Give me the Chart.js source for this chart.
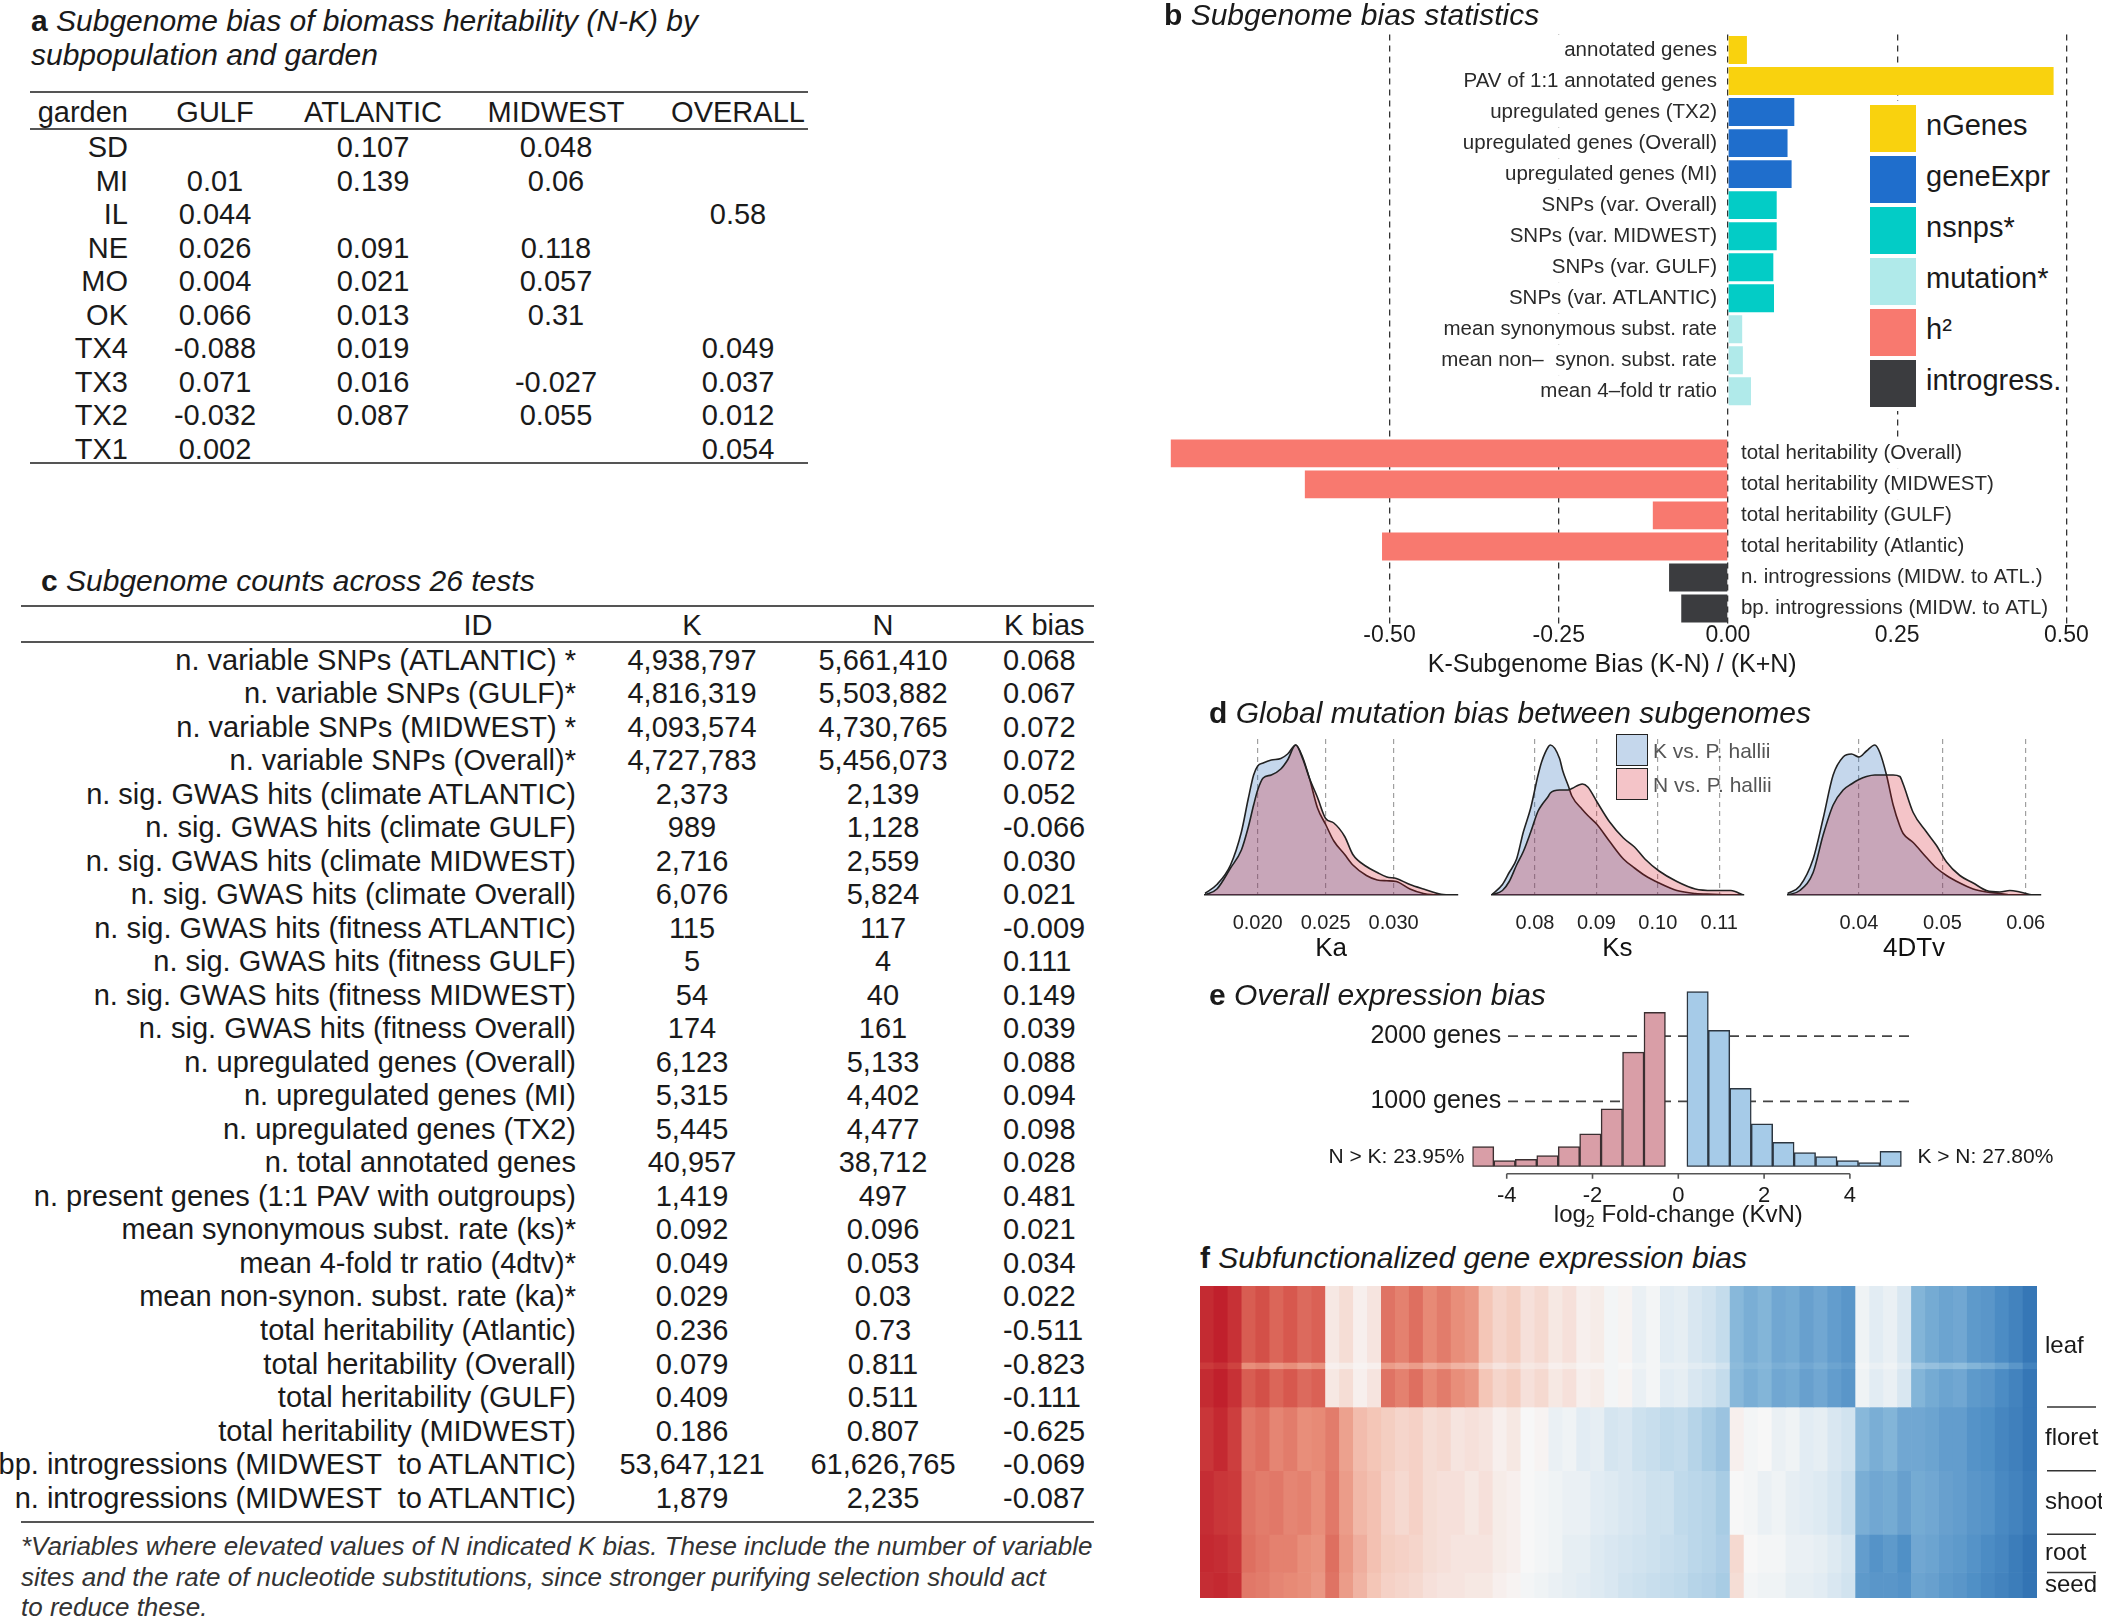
<!DOCTYPE html>
<html>
<head>
<meta charset="utf-8">
<title>Subgenome bias</title>
<script src="https://cdn.jsdelivr.net/npm/chart.js@4.4.1/dist/chart.umd.min.js"></script>
<style>
  body { margin: 0; width: 2102px; height: 1616px; overflow: hidden; background: #fff; position: relative;
         font-family: 'Liberation Sans', Arial, sans-serif; color: #1a1a1a; }
  .t { position: absolute; white-space: pre; line-height: 1; z-index: 2; }
  .ttl { font-size: 30px; font-style: italic; }
  .ttl b { font-style: normal; }
  .cell { font-size: 29px; }
  canvas { position: absolute; z-index: 1; }
</style>
</head>
<body>
<canvas id="cb" width="1002" height="690" style="left:1100px;top:0px"></canvas>
<canvas id="cka" width="290" height="237" style="left:1185px;top:725px"></canvas>
<canvas id="cks" width="285" height="237" style="left:1475px;top:725px"></canvas>
<canvas id="cdtv" width="300" height="237" style="left:1765px;top:725px"></canvas>
<canvas id="ce" width="802" height="270" style="left:1300px;top:960px"></canvas>
<canvas id="cf" width="902" height="312" style="left:1200px;top:1286px"></canvas>
<script>
const FAMILY = "'Liberation Sans', Arial, sans-serif";
Chart.defaults.font.family = FAMILY;
Chart.defaults.color = '#1a1a1a';

// panel a - heritability bias by garden
const gardens = ['SD', 'MI', 'IL', 'NE', 'MO', 'OK', 'TX4', 'TX3', 'TX2', 'TX1'];
const subpops = ['GULF', 'ATLANTIC', 'MIDWEST', 'OVERALL'];
const gulfBias = [null, 0.01, 0.044, 0.026, 0.004, 0.066, -0.088, 0.071, -0.032, 0.002];
const atlanticBias = [0.107, 0.139, null, 0.091, 0.021, 0.013, 0.019, 0.016, 0.087, null];
const midwestBias = [0.048, 0.06, null, 0.118, 0.057, 0.31, null, -0.027, 0.055, null];
const overallBias = [null, null, 0.58, null, null, null, 0.049, 0.037, 0.012, 0.054];

// panel b - bias statistics
const biasLabels = ['annotated genes', 'PAV of 1:1 annotated genes', 'upregulated genes (TX2)',
  'upregulated genes (Overall)', 'upregulated genes (MI)', 'SNPs (var. Overall)', 'SNPs (var. MIDWEST)',
  'SNPs (var. GULF)', 'SNPs (var. ATLANTIC)', 'mean synonymous subst. rate', 'mean non\u2013  synon. subst. rate',
  'mean 4\u2013fold tr ratio', '', 'total heritability (Overall)', 'total heritability (MIDWEST)',
  'total heritability (GULF)', 'total heritability (Atlantic)', 'n. introgressions (MIDW. to ATL.)',
  'bp. introgressions (MIDW. to ATL)'];
const biasValues = [0.028, 0.481, 0.098, 0.088, 0.094, 0.072, 0.072, 0.067, 0.068, 0.021, 0.022, 0.034,
  null, -0.823, -0.625, -0.111, -0.511, -0.087, -0.069];
const biasGroups = ['nGenes', 'nGenes', 'geneExpr', 'geneExpr', 'geneExpr', 'nsnps', 'nsnps', 'nsnps', 'nsnps',
  'mutation', 'mutation', 'mutation', null, 'h2', 'h2', 'h2', 'h2', 'introgress', 'introgress'];
const biasTicks = [-0.5, -0.25, 0, 0.25, 0.5];
const groupNames = ['nGenes', 'geneExpr', 'nsnps', 'mutation', 'h2', 'introgress'];
const groupLegend = ['nGenes', 'geneExpr', 'nsnps*', 'mutation*', 'h\u00b2', 'introgress.'];
const groupColors = { nGenes: '#F9D20E', geneExpr: '#1F6ECC', nsnps: '#03CCC6', mutation: '#B0EAEA', h2: '#F8796F', introgress: '#3B3C3F' };

// panel c - counts across tests
const testIds = ['n. variable SNPs (ATLANTIC) *', 'n. variable SNPs (GULF)*', 'n. variable SNPs (MIDWEST) *',
  'n. variable SNPs (Overall)*', 'n. sig. GWAS hits (climate ATLANTIC)', 'n. sig. GWAS hits (climate GULF)',
  'n. sig. GWAS hits (climate MIDWEST)', 'n. sig. GWAS hits (climate Overall)', 'n. sig. GWAS hits (fitness ATLANTIC)',
  'n. sig. GWAS hits (fitness GULF)', 'n. sig. GWAS hits (fitness MIDWEST)', 'n. sig. GWAS hits (fitness Overall)',
  'n. upregulated genes (Overall)', 'n. upregulated genes (MI)', 'n. upregulated genes (TX2)', 'n. total annotated genes',
  'n. present genes (1:1 PAV with outgroups)', 'mean synonymous subst. rate (ks)*', 'mean 4-fold tr ratio (4dtv)*',
  'mean non-synon. subst. rate (ka)*', 'total heritability (Atlantic)', 'total heritability (Overall)',
  'total heritability (GULF)', 'total heritability (MIDWEST)', 'bp. introgressions (MIDWEST  to ATLANTIC)',
  'n. introgressions (MIDWEST  to ATLANTIC)'];
const kCounts = [4938797, 4816319, 4093574, 4727783, 2373, 989, 2716, 6076, 115, 5, 54, 174, 6123, 5315, 5445,
  40957, 1419, 0.092, 0.049, 0.029, 0.236, 0.079, 0.409, 0.186, 53647121, 1879];
const nCounts = [5661410, 5503882, 4730765, 5456073, 2139, 1128, 2559, 5824, 117, 4, 40, 161, 5133, 4402, 4477,
  38712, 497, 0.096, 0.053, 0.03, 0.73, 0.811, 0.511, 0.807, 61626765, 2235];
const kBias = [0.068, 0.067, 0.072, 0.072, 0.052, -0.066, 0.030, 0.021, -0.009, 0.111, 0.149, 0.039, 0.088,
  0.094, 0.098, 0.028, 0.481, 0.021, 0.034, 0.022, -0.511, -0.823, -0.111, -0.625, -0.069, -0.087];

// panel d - mutation rate densities (relative height)
const kaRange = [0.0161, 0.0347];
const kaTicks = [0.020, 0.025, 0.030];
const kaGrid = [0.0161, 0.0170, 0.0180, 0.0188, 0.0193, 0.0197, 0.0200, 0.0204, 0.0210, 0.0217, 0.0222, 0.0228, 0.0233,
  0.0238, 0.0244, 0.0250, 0.0256, 0.0264, 0.0270, 0.0280, 0.0288, 0.0295, 0.0302, 0.0312, 0.0322, 0.0335, 0.0347];
const kaK = [0.01, 0.07, 0.2, 0.42, 0.64, 0.8, 0.86, 0.88, 0.9, 0.91, 0.94, 1.0, 0.92, 0.78, 0.58, 0.47, 0.36, 0.27,
  0.2, 0.13, 0.1, 0.095, 0.09, 0.04, 0.01, 0, 0];
const kaN = [0, 0.04, 0.18, 0.3, 0.45, 0.6, 0.7, 0.78, 0.8, 0.84, 0.9, 1.0, 0.91, 0.78, 0.65, 0.51, 0.48, 0.39,
  0.27, 0.19, 0.15, 0.12, 0.11, 0.07, 0.04, 0.005, 0];

const ksRange = [0.0729, 0.1139];
const ksTicks = [0.08, 0.09, 0.10, 0.11];
const ksGrid = [0.0729, 0.0747, 0.0758, 0.0770, 0.0781, 0.0793, 0.0805, 0.0811, 0.0822, 0.0825, 0.0840, 0.0845, 0.0854,
  0.0860, 0.0877, 0.0886, 0.0901, 0.0921, 0.0944, 0.0962, 0.0979, 0.1002, 0.1031, 0.1061, 0.1090, 0.1119, 0.1139];
const ksK = [0, 0.07, 0.15, 0.24, 0.42, 0.58, 0.8, 0.89, 0.99, 1.0, 0.91, 0.83, 0.73, 0.66, 0.57, 0.53, 0.47, 0.36,
  0.24, 0.18, 0.13, 0.08, 0.03, 0.01, 0.005, 0, 0];
const ksN = [0, 0.03, 0.09, 0.2, 0.29, 0.42, 0.56, 0.6, 0.66, 0.68, 0.7, 0.7, 0.7, 0.71, 0.74, 0.72, 0.62, 0.49,
  0.38, 0.32, 0.24, 0.16, 0.09, 0.04, 0.03, 0.03, 0];

const dtvRange = [0.0314, 0.0618];
const dtvTicks = [0.04, 0.05, 0.06];
const dtvGrid = [0.0314, 0.0329, 0.0345, 0.0357, 0.0369, 0.0381, 0.0391, 0.0400, 0.0409, 0.0419, 0.0425, 0.0433, 0.0441,
  0.0449, 0.0453, 0.0465, 0.0481, 0.0493, 0.0505, 0.0521, 0.0537, 0.0553, 0.0569, 0.0581, 0.0593, 0.0609, 0.0618];
const dtvK = [0.01, 0.06, 0.24, 0.51, 0.8, 0.92, 0.94, 0.92, 0.96, 1.0, 0.95, 0.8, 0.6, 0.46, 0.41, 0.35, 0.25, 0.18,
  0.13, 0.08, 0.04, 0.02, 0.01, 0, 0, 0, 0];
const dtvN = [0, 0.03, 0.15, 0.4, 0.6, 0.7, 0.74, 0.77, 0.79, 0.8, 0.8, 0.8, 0.8, 0.79, 0.74, 0.55, 0.42, 0.33,
  0.22, 0.13, 0.08, 0.03, 0.02, 0.03, 0.02, 0, 0];

// panel e - log2 fold-change histogram
const nkBins = [-4.55, -4.05, -3.55, -3.05, -2.55, -2.05, -1.55, -1.05, -0.55];
const nkCounts = [308, 92, 113, 169, 308, 503, 887, 1754, 2364];
const knBins = [0.45, 0.95, 1.45, 1.95, 2.45, 2.95, 3.45, 3.95, 4.45, 4.95];
const knCounts = [2682, 2087, 1200, 656, 374, 215, 154, 92, 62, 236];
const geneLines = [1000, 2000];
const geneLineLabels = ['1000 genes', '2000 genes'];
const foldTicks = [-4, -2, 0, 2, 4];
const shareLabels = ['N > K: 23.95%', 'K > N: 27.80%'];

// panel f - subfunctionalized expression (gene groups x samples)
const heatLeaf = [-0.95, -1.0, -0.92,
  -0.72, -0.78, -0.68, -0.74, -0.66, -0.7,
  -0.08, -0.14, -0.04, -0.1,
  -0.62, -0.56, -0.64, -0.52, -0.58, -0.5, -0.46,
  -0.26, -0.18, -0.22, -0.12, -0.16, -0.08, -0.12, -0.04, -0.06, 0.02, -0.02, 0.06, 0.02, 0.1, 0.08, 0.14, 0.18, 0.24,
  0.5, 0.56, 0.52, 0.6, 0.58, 0.64, 0.6, 0.66, 0.7,
  0.04, 0.1, 0.06, 0.14,
  0.52, 0.58, 0.62, 0.6, 0.68, 0.7, 0.76, 0.82, 0.9];
const heatLeafBand = [-0.88, -0.92, -0.84,
  -0.5, -0.54, -0.46, -0.5, -0.44, -0.48,
  -0.04, -0.06, -0.02, -0.04,
  -0.44, -0.4, -0.44, -0.36, -0.4, -0.34, -0.32,
  -0.16, -0.1, -0.14, -0.08, -0.1, -0.04, -0.06, -0.02, -0.02, 0.02, 0.0, 0.04, 0.02, 0.06, 0.06, 0.1, 0.12, 0.18,
  0.48, 0.52, 0.5, 0.56, 0.54, 0.6, 0.56, 0.62, 0.66,
  0.02, 0.06, 0.04, 0.1,
  0.4, 0.44, 0.48, 0.46, 0.52, 0.56, 0.62, 0.7, 0.82];
const heatFloret = [-0.9, -0.96, -0.86,
  -0.6, -0.64, -0.54, -0.58, -0.5, -0.52,
  -0.58, -0.42, -0.3, -0.26,
  -0.22, -0.18, -0.2, -0.14, -0.16, -0.1, -0.12,
  -0.1, -0.04, -0.08, 0.0, -0.02, 0.06, 0.04, 0.1, 0.08, 0.16, 0.14, 0.2, 0.22, 0.26, 0.24, 0.3, 0.36, 0.42,
  -0.04, 0.02, 0.0, 0.06, 0.04, 0.1, 0.08, 0.14, 0.18,
  0.5, 0.56, 0.52, 0.6,
  0.6, 0.62, 0.66, 0.66, 0.72, 0.74, 0.8, 0.84, 0.9];
const heatShoot = [-0.94, -0.9, -0.88,
  -0.62, -0.58, -0.6, -0.54, -0.56, -0.5,
  -0.6, -0.44, -0.32, -0.28,
  -0.2, -0.16, -0.2, -0.14, -0.12, -0.12, -0.08,
  -0.12, -0.06, -0.04, 0.0, 0.02, 0.04, 0.06, 0.06, 0.1, 0.12, 0.14, 0.16, 0.2, 0.2, 0.26, 0.28, 0.3, 0.36,
  0.0, 0.02, 0.06, 0.04, 0.08, 0.1, 0.12, 0.16, 0.22,
  0.56, 0.6, 0.58, 0.64,
  0.58, 0.6, 0.64, 0.66, 0.7, 0.72, 0.78, 0.82, 0.88];
const heatRoot = [-0.96, -0.94, -0.9,
  -0.64, -0.6, -0.56, -0.56, -0.5, -0.48,
  -0.64, -0.46, -0.36, -0.28,
  -0.22, -0.2, -0.18, -0.14, -0.12, -0.1, -0.1,
  -0.1, -0.06, -0.04, 0.0, 0.02, 0.04, 0.08, 0.08, 0.12, 0.14, 0.16, 0.18, 0.2, 0.22, 0.24, 0.28, 0.3, 0.34,
  -0.16, 0.0, 0.02, 0.02, 0.06, 0.06, 0.08, 0.12, 0.16,
  0.66, 0.72, 0.68, 0.74,
  0.6, 0.62, 0.66, 0.68, 0.72, 0.76, 0.8, 0.86, 0.92];
const heatSeed = [-0.94, -0.96, -0.92,
  -0.6, -0.58, -0.54, -0.52, -0.5, -0.46,
  -0.62, -0.44, -0.34, -0.26,
  -0.2, -0.18, -0.16, -0.12, -0.1, -0.1, -0.08,
  -0.08, -0.04, -0.02, 0.02, 0.04, 0.06, 0.08, 0.1, 0.12, 0.14, 0.18, 0.2, 0.22, 0.24, 0.26, 0.3, 0.32, 0.36,
  -0.14, 0.02, 0.04, 0.04, 0.08, 0.08, 0.1, 0.14, 0.18,
  0.68, 0.7, 0.7, 0.72,
  0.62, 0.64, 0.68, 0.7, 0.74, 0.78, 0.82, 0.86, 0.92];
const rowProfiles = ['leaf', 'leafBand', 'leaf', 'floret', 'shoot', 'root', 'seed'];
const rowCounts = [12, 1, 6, 10, 10, 6, 4];
const tissueNames = ['leaf', 'floret', 'shoot', 'root', 'seed'];
const tissueRows = [19, 10, 10, 6, 4];

// ---------- helpers ----------
function put(html, x, y, align, cls, css) {
  const d = document.createElement('div');
  d.className = 't ' + (cls || '');
  d.innerHTML = html;
  const dx = align === 'right' ? '-100%' : align === 'center' ? '-50%' : '0';
  d.style.cssText = 'left:' + x + 'px;top:' + y + 'px;transform:translate(' + dx + ',-50%);' + (css || '');
  document.body.appendChild(d);
  return d;
}
function box(x, y, w, h, css) {
  const d = document.createElement('div');
  d.style.cssText = 'position:absolute;z-index:2;box-sizing:border-box;left:' + x + 'px;top:' + y + 'px;width:' + w + 'px;height:' + h + 'px;' + css;
  document.body.appendChild(d);
}
function rule(x1, x2, y) { box(x1, y - 1, x2 - x1, 2, 'background:#555'); }
const fmtCount = v => v >= 1 ? v.toLocaleString('en-US') : String(v);

// ---------- panel a ----------
put('<b>a</b> Subgenome bias of biomass heritability (N-K) by', 31, 21, 'left', 'ttl');
put('subpopulation and garden', 31, 55, 'left', 'ttl');
rule(30, 808, 92); rule(30, 808, 129); rule(30, 808, 463);
const aCols = [215, 373, 556, 738];
put('garden', 128, 112, 'right', 'cell');
subpops.forEach((s, j) => put(s, aCols[j], 112, 'center', 'cell'));
gardens.forEach((g, i) => {
  const y = 147 + i * 33.5;
  put(g, 128, y, 'right', 'cell');
  [gulfBias, atlanticBias, midwestBias, overallBias].forEach((arr, j) => {
    if (arr[i] !== null) put(String(arr[i]), aCols[j], y, 'center', 'cell');
  });
});

// ---------- panel c ----------
put('<b>c</b> Subgenome counts across 26 tests', 41, 581, 'left', 'ttl');
rule(21, 1094, 606); rule(21, 1094, 642); rule(21, 1094, 1522);
put('ID', 478, 625, 'center', 'cell');
put('K', 692, 625, 'center', 'cell');
put('N', 883, 625, 'center', 'cell');
put('K bias', 1004, 625, 'left', 'cell');
testIds.forEach((id, i) => {
  const y = 659.6 + i * 33.52;
  put(id, 576, y, 'right', 'cell');
  put(fmtCount(kCounts[i]), 692, y, 'center', 'cell');
  put(fmtCount(nCounts[i]), 883, y, 'center', 'cell');
  put(kBias[i].toFixed(3), 1003, y, 'left', 'cell');
});
const noteCss = 'font-size:26px;font-style:italic;color:#333';
put('*Variables where elevated values of N indicated K bias. These include the number of variable', 21, 1546, 'left', '', noteCss);
put('sites and the rate of nucleotide substitutions, since stronger purifying selection should act', 21, 1577, 'left', '', noteCss);
put('to reduce these.', 21, 1607, 'left', '', noteCss);

// ---------- panel b ----------
put('<b>b</b> Subgenome bias statistics', 1164, 15, 'left', 'ttl');
const barLabels = {
  id: 'barLabels',
  afterDatasetsDraw(chart) {
    const { ctx, scales: { x, y } } = chart;
    const x0 = x.getPixelForValue(0);
    const half = (y.getPixelForValue(1) - y.getPixelForValue(0)) / 2;
    ctx.save();
    ctx.font = '20.5px ' + FAMILY;
    ctx.textBaseline = 'middle';
    let prev = null;
    biasLabels.forEach((lab, i) => {
      const yc = y.getPixelForValue(i);
      ctx.fillStyle = '#fff';
      if (!lab) { if (prev) ctx.fillRect(prev[0], yc - half, prev[1], 2 * half); return; }
      const w = ctx.measureText(lab).width;
      const pos = biasValues[i] >= 0;
      const tx = pos ? x0 - 11 : x0 + 13;
      const bx = pos ? Math.min(tx - w - 8, x.getPixelForValue(-0.27)) : x0 + 4;
      const bw = pos ? (x0 - 4) - bx : w + 16;
      ctx.fillRect(bx, yc - half, bw, 2 * half);
      ctx.fillStyle = '#2a2a2a';
      ctx.textAlign = pos ? 'right' : 'left';
      ctx.fillText(lab, tx, yc);
      prev = [bx, bw];
    });
    ctx.restore();
  }
};
new Chart(document.getElementById('cb'), {
  type: 'bar',
  data: {
    labels: biasLabels,
    datasets: [{
      data: biasValues,
      backgroundColor: biasGroups.map(g => groupColors[g] || 'rgba(0,0,0,0)'),
      barPercentage: 0.9, categoryPercentage: 1, borderWidth: 0
    }]
  },
  options: {
    indexAxis: 'y', responsive: false, animation: false,
    layout: { padding: { left: 26.8, right: 4.4, top: 34.5, bottom: 12.5 } },
    plugins: { legend: { display: false }, tooltip: { enabled: false } },
    scales: {
      y: { display: false },
      x: {
        min: -0.888, max: 0.546,
        afterBuildTicks: s => { s.ticks = biasTicks.map(v => ({ value: v })); },
        grid: { color: '#333', lineWidth: 1.3, drawTicks: false },
        border: { display: false, dash: [6, 5] },
        ticks: { padding: 0, color: '#1a1a1a', font: { size: 23, lineHeight: 1 }, callback: v => v.toFixed(2) },
        title: { display: true, text: 'K-Subgenome Bias (K-N) / (K+N)', color: '#1a1a1a',
                 font: { size: 25, lineHeight: 1 }, padding: { top: 5.5, bottom: 0 } }
      }
    }
  },
  plugins: [barLabels]
});
box(1864, 101, 198, 310, 'background:#fff');
groupNames.forEach((g, i) => {
  const top = 105 + i * 51;
  box(1870, top, 46, 47, 'background:' + groupColors[g]);
  put(groupLegend[i], 1926, top + 20, 'left', '', 'font-size:29px');
});

// ---------- panel d ----------
put('<b>d</b> Global mutation bias between subgenomes', 1209, 713, 'left', 'ttl');
const K_FILL = 'rgba(23,95,179,0.25)';
const N_FILL = 'rgba(211,19,35,0.25)';
function densityChart(id, grid, kVals, nVals, range, ticks, digits, title, padL, padR) {
  const line = { borderColor: '#222', borderWidth: 1.6, pointRadius: 0, fill: 'origin', cubicInterpolationMode: 'monotone' };
  return new Chart(document.getElementById(id), {
    type: 'line',
    data: {
      datasets: [
        Object.assign({ data: grid.map((v, i) => ({ x: v, y: nVals[i] })), backgroundColor: N_FILL }, line),
        Object.assign({ data: grid.map((v, i) => ({ x: v, y: kVals[i] })), backgroundColor: K_FILL }, line)
      ]
    },
    options: {
      responsive: false, animation: false,
      layout: { padding: { left: padL, right: padR, top: 14, bottom: 0 } },
      plugins: { legend: { display: false }, tooltip: { enabled: false } },
      scales: {
        y: { display: false, min: 0, max: 1.04 },
        x: {
          type: 'linear', min: range[0], max: range[1],
          afterBuildTicks: s => { s.ticks = ticks.map(v => ({ value: v })); },
          grid: { color: '#a0a0a0', lineWidth: 1.2, drawTicks: false },
          border: { display: true, color: '#222', width: 1.6, dash: [5, 4] },
          ticks: { padding: 18, color: '#222', font: { size: 20, lineHeight: 1 }, callback: v => v.toFixed(digits) },
          title: { display: true, text: title, color: '#111', font: { size: 26, lineHeight: 1 }, padding: { top: -15, bottom: 0 } }
        }
      }
    }
  });
}
densityChart('cka', kaGrid, kaK, kaN, kaRange, kaTicks, 3, 'Ka', 19.7, 17.5);
densityChart('cks', ksGrid, ksK, ksN, ksRange, ksTicks, 2, 'Ks', 16.4, 16.8);
densityChart('cdtv', dtvGrid, dtvK, dtvN, dtvRange, dtvTicks, 2, '4DTv', 22.3, 24.3);
box(1616, 734, 32, 32, 'background:#C5D7EC;border:1.5px solid #222');
box(1616, 768, 32, 32, 'background:#F4C4C8;border:1.5px solid #222');
put('K vs. P. hallii', 1653, 750, 'left', '', 'font-size:21px;color:#555');
put('N vs. P. hallii', 1653, 784, 'left', '', 'font-size:21px;color:#555');

// ---------- panel e ----------
put('<b>e</b> Overall expression bias', 1209, 995, 'left', 'ttl');
const histPlugin = {
  id: 'hist',
  beforeDatasetsDraw(chart) {
    const { ctx, chartArea, scales: { x, y } } = chart;
    ctx.save();
    ctx.strokeStyle = '#444'; ctx.lineWidth = 1.6; ctx.setLineDash([10, 7]);
    ctx.font = '25px ' + FAMILY; ctx.fillStyle = '#1a1a1a';
    ctx.textAlign = 'right'; ctx.textBaseline = 'middle';
    geneLines.forEach((g, i) => {
      const py = y.getPixelForValue(g);
      ctx.beginPath(); ctx.moveTo(x.getPixelForValue(-3.97), py); ctx.lineTo(chartArea.right, py); ctx.stroke();
      ctx.fillText(geneLineLabels[i], x.getPixelForValue(-4.13), py);
    });
    ctx.restore();
  },
  afterDatasetsDraw(chart) {
    const { ctx, scales: { x, y } } = chart;
    const y0 = y.getPixelForValue(0);
    ctx.save();
    ctx.strokeStyle = '#555'; ctx.lineWidth = 1.6;
    ctx.beginPath();
    ctx.moveTo(x.getPixelForValue(foldTicks[0]), y0 + 7);
    ctx.lineTo(x.getPixelForValue(foldTicks[foldTicks.length - 1]), y0 + 7);
    foldTicks.forEach(t => { const px = x.getPixelForValue(t); ctx.moveTo(px, y0 + 7); ctx.lineTo(px, y0 + 12); });
    ctx.stroke();
    ctx.fillStyle = '#1a1a1a'; ctx.textAlign = 'center'; ctx.textBaseline = 'middle';
    ctx.font = '22px ' + FAMILY;
    foldTicks.forEach(t => ctx.fillText(String(t), x.getPixelForValue(t), y0 + 29));
    // axis title with subscript 2
    const big = '24px ' + FAMILY, small = '16px ' + FAMILY;
    ctx.font = big; const w1 = ctx.measureText('log').width, w3 = ctx.measureText(' Fold-change (KvN)').width;
    ctx.font = small; const w2 = ctx.measureText('2').width;
    let sx = x.getPixelForValue(0) - (w1 + w2 + w3) / 2;
    const ty = y0 + 49;
    ctx.textAlign = 'left';
    ctx.font = big; ctx.fillText('log', sx, ty); sx += w1;
    ctx.font = small; ctx.fillText('2', sx, ty + 7); sx += w2;
    ctx.font = big; ctx.fillText(' Fold-change (KvN)', sx, ty);
    ctx.font = '21px ' + FAMILY;
    ctx.textAlign = 'right'; ctx.fillText(shareLabels[0], x.getPixelForValue(nkBins[0] - 0.25) - 8, y0 - 9);
    ctx.textAlign = 'left'; ctx.fillText(shareLabels[1], x.getPixelForValue(knBins[knBins.length - 1] + 0.25) + 16, y0 - 9);
    ctx.restore();
  }
};
const histBar = { grouped: false, barPercentage: 1, categoryPercentage: 1, borderWidth: 1.5, borderSkipped: false };
new Chart(document.getElementById('ce'), {
  type: 'bar',
  data: {
    datasets: [
      Object.assign({ data: nkBins.map((b, i) => ({ x: b, y: nkCounts[i] })), backgroundColor: '#D99EA7', borderColor: '#3b2f31' }, histBar),
      Object.assign({ data: knBins.map((b, i) => ({ x: b, y: knCounts[i] })), backgroundColor: '#A6CBE8', borderColor: '#2c3640' }, histBar)
    ]
  },
  options: {
    responsive: false, animation: false,
    layout: { padding: { left: 172.4, right: 189.9, top: 27.1, bottom: 63.3 } },
    plugins: { legend: { display: false }, tooltip: { enabled: false } },
    scales: {
      x: { type: 'linear', display: false, min: -4.8, max: 5.45, offset: false },
      y: { display: false, min: 0, max: 2750 }
    }
  },
  plugins: [histPlugin]
});

// ---------- panel f ----------
put('<b>f</b> Subfunctionalized gene expression bias', 1200, 1258, 'left', 'ttl');
const heatStops = [[-1, [192, 32, 44]], [-0.75, [214, 86, 76]], [-0.5, [232, 142, 122]], [-0.25, [244, 200, 186]],
  [0, [247, 247, 247]], [0.25, [194, 219, 236]], [0.5, [136, 184, 218]], [0.75, [78, 142, 197]], [1, [38, 104, 172]]];
function heatColor(v) {
  for (let i = 1; i < heatStops.length; i++) {
    if (v <= heatStops[i][0]) {
      const [a, ca] = heatStops[i - 1], [b, cb] = heatStops[i];
      const f = (v - a) / (b - a);
      return 'rgb(' + ca.map((c, k) => Math.round(c + (cb[k] - c) * f)).join(',') + ')';
    }
  }
  return 'rgb(38,104,172)';
}
const heatProfiles = { leaf: heatLeaf, leafBand: heatLeafBand, floret: heatFloret, shoot: heatShoot, root: heatRoot, seed: heatSeed };
let rowStart = 0;
const heatSets = rowProfiles.map((p, j) => {
  const s = rowStart; rowStart += rowCounts[j];
  const vals = heatProfiles[p];
  return { data: vals.map(() => [s, s + rowCounts[j]]), backgroundColor: vals.map(heatColor),
           borderWidth: 0, grouped: false, barPercentage: 1, categoryPercentage: 1 };
});
const tissueLabels = {
  id: 'tissueLabels',
  afterDraw(chart) {
    const { ctx, chartArea, scales: { y } } = chart;
    ctx.save();
    ctx.font = '24px ' + FAMILY; ctx.fillStyle = '#1a1a1a';
    ctx.textBaseline = 'middle'; ctx.textAlign = 'left';
    ctx.strokeStyle = '#333'; ctx.lineWidth = 1.5;
    let acc = 0;
    tissueRows.forEach((n, i) => {
      const yTop = y.getPixelForValue(acc), yBot = y.getPixelForValue(acc + n);
      if (i > 0) { ctx.beginPath(); ctx.moveTo(chartArea.right + 10, yTop); ctx.lineTo(chartArea.right + 59, yTop); ctx.stroke(); }
      ctx.fillText(tissueNames[i], chartArea.right + 8, (yTop + yBot) / 2);
      acc += n;
    });
    ctx.restore();
  }
};
new Chart(document.getElementById('cf'), {
  type: 'bar',
  data: { labels: heatLeaf.map((_, i) => i + 1), datasets: heatSets },
  options: {
    responsive: false, animation: false,
    layout: { padding: { left: 0, right: 65, top: 0, bottom: 0 } },
    plugins: { legend: { display: false }, tooltip: { enabled: false } },
    scales: {
      x: { display: false },
      y: { display: false, min: 0, max: rowStart, reverse: true }
    }
  },
  plugins: [tissueLabels]
});
</script>
</body>
</html>
